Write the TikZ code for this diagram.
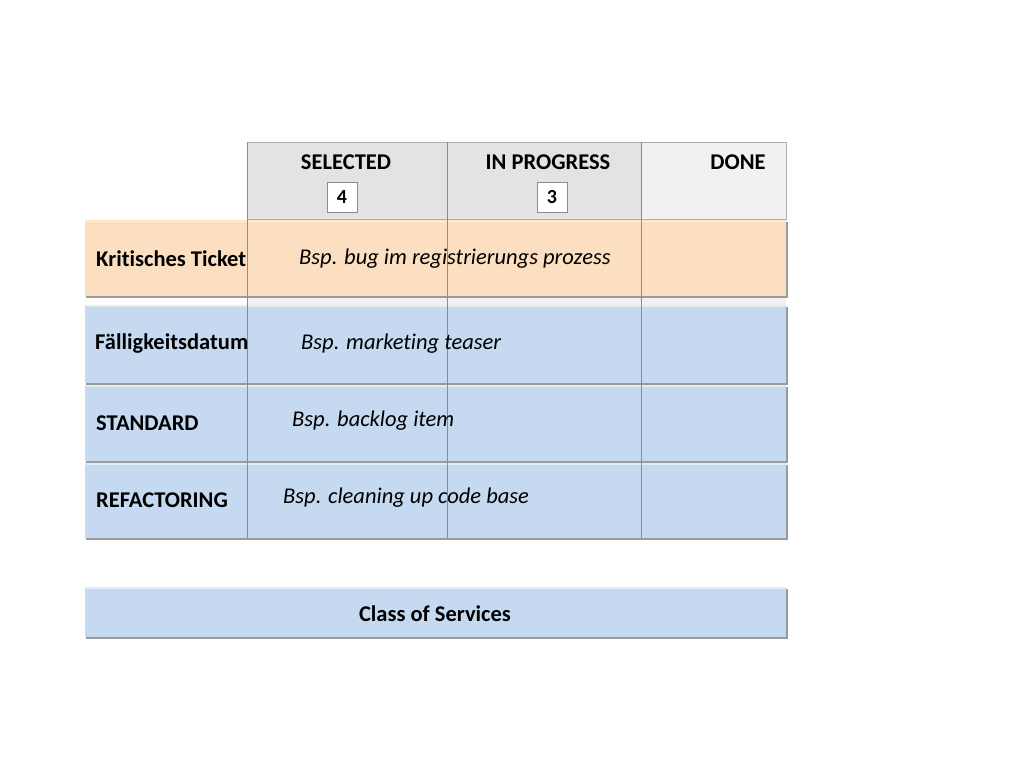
\documentclass[tikz,border=0pt]{standalone}
\usepackage{fontspec}
\setmainfont[Ligatures=NoCommon]{Carlito}
\usetikzlibrary{positioning}
\definecolor{peach}{HTML}{FCDFC0}
\definecolor{rowblue}{HTML}{C5D9F1}
\definecolor{gridline}{HTML}{8C8C8C}
\definecolor{shadowc}{HTML}{9A9A9A}
\definecolor{headgray}{HTML}{E3E3E3}
\definecolor{donegray}{HTML}{F1F1F1}
\tikzset{
  x=1pt, y=-1pt,
  rowlbl/.style={anchor=west, font=\fontsize{22.5}{26}\selectfont\bfseries, inner sep=0pt},
  example/.style={anchor=west, font=\fontsize{22.5}{26}\selectfont\itshape, inner sep=0pt},
  colhead/.style={font=\fontsize{22.5}{26}\selectfont\bfseries, inner sep=0pt},
  countbox/.style={draw=gridline, fill=white, minimum width=30pt, minimum height=30pt, inner sep=0pt, font=\fontsize{20}{22}\selectfont\bfseries},
  rowshadow/.style={fill=shadowc, draw=none},
}
\begin{document}
\begin{tikzpicture}
\useasboundingbox (0,0) rectangle (1024,768);
\fill[white] (0,0) rectangle (1024,768);
% header
\fill[headgray] (247,142) rectangle (641,219);
\fill[donegray] (641,142) rectangle (786,219);
\draw[gridline!70] (247,142) rectangle (786,219);
\fill[gray!12] (247,296) rectangle (786,305);
% orange row
\fill[rowshadow] (86,222) rectangle (788,298);
\fill[peach] (85,220) rectangle (786,296);
\draw[white!60!peach] (86,221) -- (785,221);
% blue rows
\foreach \a/\b in {305/383,385/461,463/538}{
  \fill[rowshadow] (86,\a+2) rectangle (788,\b+2);
  \fill[rowblue] (85,\a) rectangle (786,\b);
  \draw[white!50!rowblue, line width=1.5pt] (86,\a+1) -- (785,\a+1);
}
% class of services
\fill[rowshadow] (86,589) rectangle (788,639);
\fill[rowblue] (85,587) rectangle (786,637);
\draw[white!50!rowblue, line width=1.5pt] (86,588) -- (785,588);
\node[colhead] (cos) at (435,614) {Class of Services};
% grid lines
\coordinate (c1t) at (247,142); \coordinate (c1b) at (247,538);
\coordinate (c2t) at (447,142); \coordinate (c2b) at (447,538);
\coordinate (c3t) at (641,142); \coordinate (c3b) at (641,538);
\draw[gridline] (c1t) -- (c1b);
\draw[gridline] (c2t) -- (c2b);
\draw[gridline] (c3t) -- (c3b);
% column headers
\node[colhead] (sel) at (346,162) {SELECTED};
\node[colhead] (inp) at (548,162) {IN PROGRESS};
\node[colhead] (done) at (738,162) {DONE};
\node[countbox] (n4) at (342,197) {4};
\node[countbox] (n3) at (552,197) {3};
% row labels
\node[rowlbl] (r1) at (96,259) {Kritisches Ticket};
\node[rowlbl] (r2) at (95,344) {Fälligkeitsdatum};
\node[rowlbl] (r3) at (96,423) {STANDARD};
\node[rowlbl] (r4) at (96,500) {REFACTORING};
% examples
\node[example] (e1) at (299,259) {Bsp. bug im registrierungs prozess};
\node[example] (e2) at (301,344) {Bsp. marketing teaser};
\node[example] (e3) at (292,421) {Bsp. backlog item};
\node[example] (e4) at (283,498) {Bsp. cleaning up code base};
\end{tikzpicture}
\end{document}
